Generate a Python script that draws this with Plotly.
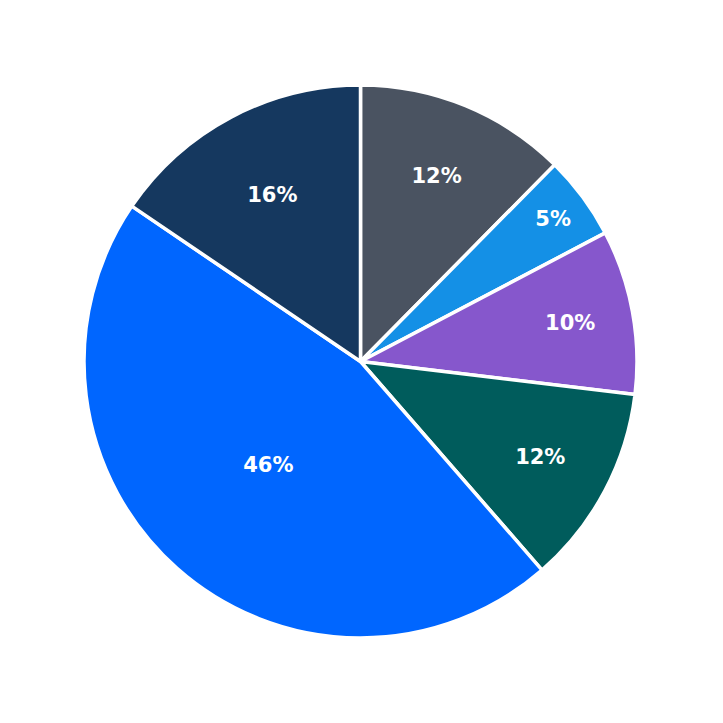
import plotly.graph_objects as go

labels = ["A", "B", "C", "D", "E", "F"]
values = [12.4, 4.9, 9.6, 11.7, 45.9, 15.5]
colors = ["#4a5361", "#1490e6", "#8657cc", "#005c5c", "#0066ff", "#15385f"]

fig = go.Figure(go.Pie(
    labels=labels,
    values=values,
    sort=False,
    direction="clockwise",
    rotation=0,
    marker=dict(colors=colors, line=dict(color="white", width=3.5)),
    textinfo="percent",
    texttemplate="<b>%{percent:.0%}</b>",
    textposition="inside",
    insidetextorientation="horizontal",
    textfont=dict(family="DejaVu Sans", size=21, color="white"),
))

fig.update_layout(
    width=723, height=723,
    margin=dict(l=76, r=94, t=77, b=93),
    showlegend=False,
    paper_bgcolor="white",
)

fig.write_html("out.html")
